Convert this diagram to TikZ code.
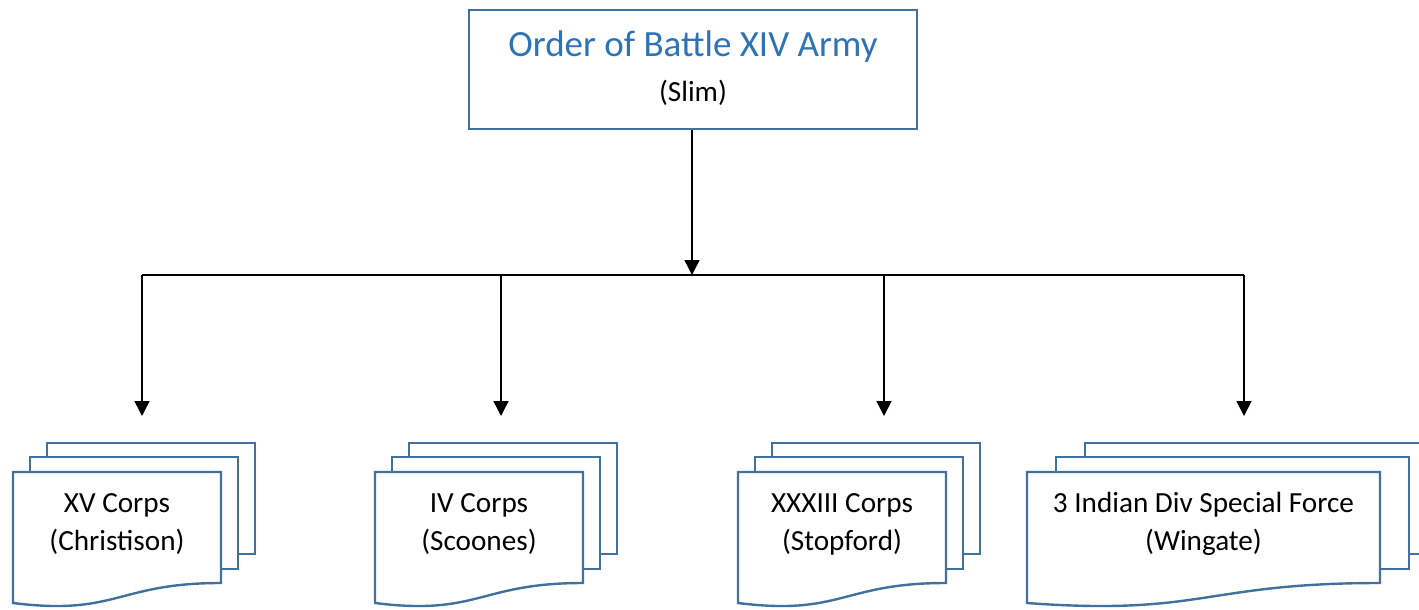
\documentclass[tikz,border=0pt]{standalone}
\usepackage{fontspec}
\setmainfont{Carlito}
\usetikzlibrary{arrows.meta}
\definecolor{docblue}{RGB}{65,113,156}
\definecolor{titleblue}{RGB}{46,116,181}
\newcommand\mdoc[3]{%
  \filldraw[docline] ({#1+2*#3},443) rectangle ({#1+#2+2*#3},554);
  \filldraw[docline] ({#1+#3},457) rectangle ({#1+#2+#3},569);
  \filldraw[docline] (#1,472) -- ({#1+#2},472) -- ({#1+#2},583)
     .. controls ({#1+#2/2},583) and ({#1+#2/2},616) .. (#1,603) -- cycle;
}
\tikzset{
  docline/.style={draw=docblue, fill=white, line width=2.4pt, line join=miter},
  armybox/.style={draw=docblue, fill=white, line width=2.4pt, minimum width=448pt, minimum height=119pt, inner sep=0pt},
  titletext/.style={text=titleblue, font=\fontsize{37}{44}\selectfont, inner sep=0pt, anchor=base},
  bodytext/.style={text=black, font=\fontsize{29.2}{35}\selectfont, inner sep=0pt, anchor=base},
  link/.style={line width=1.5pt, black},
  conn/.style={link, -{Triangle[length=15pt,width=15pt]}},
}
\begin{document}
\begin{tikzpicture}[x=1pt, y=-1pt]
\fill[white] (0,0) rectangle (1419,610);
\useasboundingbox (0,0) rectangle (1419,610);
\clip (0,0) rectangle (1419,610);

% top box
\node[armybox] (army) at (693,69.5) {};
\node[titletext] (title) at (693,57) {Order of Battle XIV Army};
\node[bodytext] (slim) at (693,101) {(Slim)};

% connectors
\coordinate (j) at (692,275);
\coordinate (h1) at (142,275);
\coordinate (h2) at (501,275);
\coordinate (h3) at (884,275);
\coordinate (h4) at (1244,275);
\coordinate (t1) at (142,416);
\coordinate (t2) at (501,416);
\coordinate (t3) at (884,416);
\coordinate (t4) at (1244,416);
\draw[conn] (army.south -| j) -- (j);
\draw[link] (h1) -- (h4);
\draw[conn] (h1) -- (t1);
\draw[conn] (h2) -- (t2);
\draw[conn] (h3) -- (t3);
\draw[conn] (h4) -- (t4);

% multidocument shapes
\mdoc{13}{208}{17}
\mdoc{375}{208}{17}
\mdoc{738}{208}{17}
\mdoc{1027}{353}{29}

\node[bodytext] (c1a) at (117,512) {XV Corps};
\node[bodytext] (c1b) at (117,550) {(Christison)};
\node[bodytext] (c2a) at (479,512) {IV Corps};
\node[bodytext] (c2b) at (479,550) {(Scoones)};
\node[bodytext] (c3a) at (842,512) {XXXIII Corps};
\node[bodytext] (c3b) at (842,550) {(Stopford)};
\node[bodytext] (c4a) at (1203.5,512) {3 Indian Div Special Force};
\node[bodytext] (c4b) at (1203.5,550) {(Wingate)};
\end{tikzpicture}
\end{document}
